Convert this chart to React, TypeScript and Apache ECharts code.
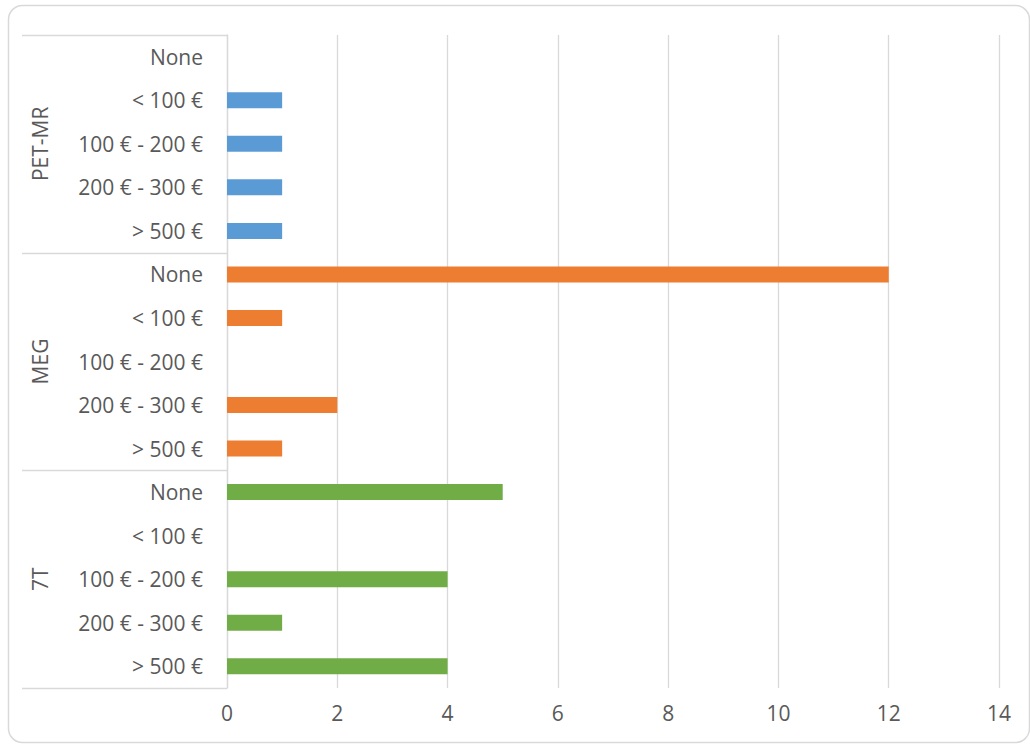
import React, { useEffect, useRef } from "react";
import * as echarts from "echarts";

const groups = ["PET-MR", "MEG", "7T"];
const tiers = ["None", "< 100 €", "100 € - 200 €", "200 € - 300 €", "> 500 €"];
const petmrValues = [0, 1, 1, 1, 1];
const megValues = [12, 1, 0, 2, 1];
const t7Values = [5, 0, 4, 1, 4];
const groupColors = ["#5B9BD5", "#ED7D31", "#70AD47"];
const xTicks = { min: 0, max: 14, interval: 2 };

const FONT = "'Open Sans', sans-serif";
const TEXT = "#595959";
const GRID = "#D9D9D9";
const FS = 21;

export default function App() {
  const ref = useRef<HTMLDivElement>(null);
  useEffect(() => {
    if (!ref.current) return;
    const chart = echarts.init(ref.current, null, { renderer: "svg" });
    const values = [petmrValues, megValues, t7Values];
    const categories: string[] = [];
    groups.forEach(() => tiers.forEach((t) => categories.push(t)));
    const n = categories.length;
    const catIdx = categories.map((_, i) => i);

    const series = groups.map((g, gi) => {
      const data: (number | string)[] = [];
      for (let i = 0; i < n; i++) {
        const grp = Math.floor(i / tiers.length);
        data.push(grp === gi ? values[gi][i % tiers.length] : "-");
      }
      return {
        name: g,
        type: "bar",
        stack: "all",
        barWidth: 16,
        itemStyle: { color: groupColors[gi] },
        data,
      };
    });

    chart.setOption({
      animation: false,
      textStyle: { fontFamily: FONT },
      grid: { left: 227, right: 31, top: 35, bottom: 56, containLabel: false },
      xAxis: {
        type: "value",
        min: xTicks.min,
        max: xTicks.max,
        interval: xTicks.interval,
        axisLine: { show: false },
        axisTick: { show: false },
        axisLabel: { color: TEXT, fontSize: FS, fontFamily: FONT, margin: 14 },
        splitLine: { show: true, lineStyle: { color: GRID, width: 1.3 } },
      },
      yAxis: {
        type: "category",
        inverse: true,
        data: catIdx,
        axisLine: { show: true, lineStyle: { color: GRID, width: 1.3 } },
        axisTick: { show: false },
        axisLabel: {
          color: TEXT,
          fontSize: FS,
          fontFamily: FONT,
          margin: 24,
          formatter: (v: string) => categories[Number(v)],
        },
        splitLine: { show: false },
      },
      series,
    });

    const y0 = chart.convertToPixel({ yAxisIndex: 0 }, 0) as number;
    const y1 = chart.convertToPixel({ yAxisIndex: 0 }, 1) as number;
    const step = y1 - y0;
    const axisX = chart.convertToPixel({ xAxisIndex: 0 }, 0) as number;
    const graphics: any[] = [
      {
        type: "rect",
        z: -10,
        silent: true,
        shape: { x: 8.5, y: 5.5, width: 1021, height: 737, r: 14 },
        style: { fill: "#fff", stroke: GRID, lineWidth: 1.5 },
      },
    ];
    for (let k = 0; k <= groups.length; k++) {
      const y = Math.round(y0 - step / 2 + k * tiers.length * step) + 0.5;
      graphics.push({
        type: "line",
        silent: true,
        shape: { x1: 22, y1: y, x2: axisX, y2: y },
        style: { stroke: GRID, lineWidth: 1.5 },
      });
    }
    groups.forEach((g, k) => {
      const yc = y0 + (k * tiers.length + (tiers.length - 1) / 2) * step;
      graphics.push({
        type: "text",
        silent: true,
        x: 40,
        y: yc,
        rotation: Math.PI / 2,
        style: {
          text: g,
          fill: TEXT,
          fontSize: FS,
          fontFamily: FONT,
          textAlign: "center",
          textVerticalAlign: "middle",
        },
      });
    });
    chart.setOption({ graphic: graphics });

    return () => chart.dispose();
  }, []);
  return (
    <div
      ref={ref}
      style={{ position: "absolute", left: 0, top: 0, width: 1030, height: 744, background: "#fff" }}
    />
  );
}
